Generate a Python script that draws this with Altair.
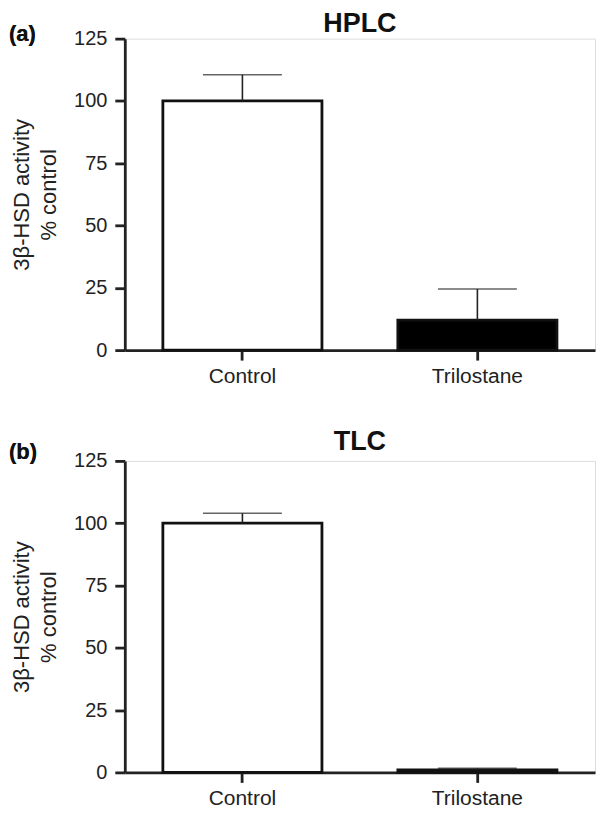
import altair as alt
import pandas as pd

groups = ["Control", "Trilostane"]
hplc_mean = [100, 12]
hplc_err = [110.5, 24.5]
tlc_mean = [100, 1]
tlc_err = [104, 1.6]
fills = ["white", "black"]
y_ticks = [0, 25, 50, 75, 100, 125]

FONT = "Liberation Sans"

def panel(title, label, means, errs, label_y):
    df = pd.DataFrame({"group": groups, "mean": means, "err": errs, "fill": fills})
    x = alt.X("group:N", sort=groups, title=None,
              scale=alt.Scale(paddingInner=0.323, paddingOuter=0.162),
              axis=alt.Axis(labelAngle=0, labelPadding=5))
    y = alt.Y("mean:Q", title=["3β-HSD activity", "% control"],
              scale=alt.Scale(domain=[0, 125], nice=False),
              axis=alt.Axis(values=y_ticks, labelPadding=8, titlePadding=13))
    base = alt.Chart(df)
    bars = base.mark_bar(stroke="#111", strokeWidth=2.8).encode(
        x=x, y=y, fill=alt.Fill("fill:N", scale=None))
    stem = base.mark_rule(color="#222", strokeWidth=1.6).encode(
        x=alt.X("group:N", sort=groups), y="mean:Q", y2="err:Q")
    cap = base.mark_tick(color="#222", thickness=1.6, size=79).encode(
        x=alt.X("group:N", sort=groups), y="err:Q")
    lab = base.mark_text(text=label, fontSize=22, fontWeight="bold", font=FONT,
                         align="left", baseline="middle", color="#111").encode(
        x=alt.value(-116), y=alt.value(label_y))
    return alt.layer(bars, stem, cap, lab).properties(
        width=471, height=312,
        title=alt.TitleParams(title, fontSize=27, font=FONT, fontWeight="bold",
                              anchor="middle", offset=-15, color="#111"))

a = panel("HPLC", "(a)", hplc_mean, hplc_err, -5)
b = panel("TLC", "(b)", tlc_mean, tlc_err, -9)

chart = (alt.vconcat(a, b, spacing=40)
         .properties(padding=0)
         .configure_view(stroke="transparent", strokeWidth=0)
         .configure(background="white")
         .configure_axis(grid=False, labelFontSize=20, labelFont=FONT, labelColor="#222",
                         domainColor="#222", domainWidth=2.8, tickColor="#222",
                         tickWidth=2.8, tickSize=10, titleFont=FONT, titleFontSize=22,
                         titleFontWeight="normal", titleColor="#222", titleLineHeight=27)
         .configure_axisX(labelFontSize=21))

chart.save("out.html", embed_options={"renderer": "svg", "actions": False})
